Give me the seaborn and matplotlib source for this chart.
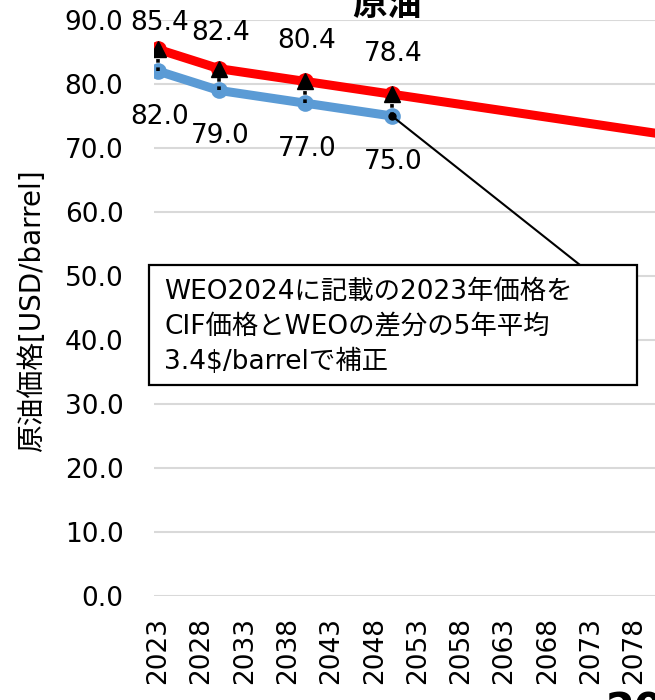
import numpy as np
import pandas as pd
import seaborn as sns
import matplotlib.pyplot as plt
from matplotlib.patches import Rectangle

# WEO2024 price (blue) and corrected price (red, continues to the right)
weo_years = [2023, 2030, 2040, 2050]
weo_price = [82.0, 79.0, 77.0, 75.0]
cif_years = [2023, 2030, 2040, 2050, 2085]
cif_price = [85.4, 82.4, 80.4, 78.4, 71.4]

tick_years = list(range(2023, 2079, 5))
y_ticks = [0, 10, 20, 30, 40, 50, 60, 70, 80, 90]
y_tick_labels = [f"{t:.1f}" for t in y_ticks]

title = "原油"
y_label = "原油価格[USD/barrel]"
note = "WEO2024に記載の2023年価格を\nCIF価格とWEOの差分の5年平均\n3.4$/barrelで補正"

RED = "#FF0000"
BLUE = "#5B9BD5"

sns.set_style("white")
plt.rcParams["font.family"] = ["DejaVu Sans", "Noto Sans CJK JP"]
plt.rcParams["text.color"] = "black"
plt.rcParams["xtick.color"] = "black"
plt.rcParams["ytick.color"] = "black"

W, H = 655, 700
fig = plt.figure(figsize=(W / 100, H / 100), dpi=100)
# plot area runs past the right edge of the picture (cropped chart)
ax = fig.add_axes([154 / W, 104 / H, 675 / W, 576 / H])

weo_df = pd.DataFrame({"year": weo_years, "price": weo_price})
cif_df = pd.DataFrame({"year": cif_years, "price": cif_price})

sns.lineplot(data=cif_df, x="year", y="price", ax=ax, color=RED, lw=6.5,
             marker="o", markersize=12, markeredgewidth=0,
             markevery=list(range(len(weo_years))), zorder=3)
sns.lineplot(data=weo_df, x="year", y="price", ax=ax, color=BLUE, lw=6.5,
             marker="o", markersize=12, markeredgewidth=0, zorder=3)

# dotted arrows from WEO value up to corrected value
top_vals = cif_price[:len(weo_years)]
ax.vlines(weo_years, weo_price, top_vals, colors="black",
          linestyles=(0, (1, 1.3)), lw=2.6, zorder=4)
ax.plot(weo_years, top_vals, "^", color="black", ms=11, zorder=5)

# data labels
red_dy = [19, 26, 29, 29]
for yr, v, dy in zip(weo_years, top_vals, red_dy):
    ax.annotate(f"{v:.1f}", xy=(yr, v), xytext=(1, dy), textcoords="offset points",
                ha="center", va="center", fontsize=19, annotation_clip=False)
for yr, v in zip(weo_years, weo_price):
    ax.annotate(f"{v:.1f}", xy=(yr, v), xytext=(1, -33), textcoords="offset points",
                ha="center", va="center", fontsize=19, annotation_clip=False)

# callout
ax.plot([weo_years[-1]], [weo_price[-1]], "o", color="black", ms=5, zorder=6)
ax.annotate("", xy=(weo_years[-1], weo_price[-1]), xytext=(580, H - 265),
            textcoords="figure pixels",
            arrowprops=dict(arrowstyle="-", color="black", lw=1.5,
                            shrinkA=0, shrinkB=0), zorder=6)
fig.add_artist(Rectangle((149 / W, 1 - 385 / H), 488 / W, 120 / H,
                         transform=fig.transFigure, facecolor="white",
                         edgecolor="black", lw=1.6, zorder=10))
fig.text(164 / W, 1 - 279 / H, note, ha="left", va="top", fontsize=19,
         linespacing=1.45, zorder=11)

ax.set_xlim(2022.5, 2100.5)
ax.set_ylim(0, 90)
ax.set_xticks(tick_years)
ax.set_xticklabels([str(t) for t in tick_years], rotation=90, fontsize=19)
ax.set_yticks(y_ticks)
ax.set_yticklabels(y_tick_labels, fontsize=19)
ax.tick_params(axis="both", length=0)
ax.tick_params(axis="x", pad=15)
ax.tick_params(axis="y", pad=22)
ax.set_xlabel("")
ax.set_ylabel("")
ax.yaxis.grid(True, color="#D9D9D9", lw=1.5)
ax.xaxis.grid(False)
ax.set_axisbelow(True)
for s in ax.spines.values():
    s.set_visible(False)

fig.text(32 / W, 1 - 311 / H, y_label, rotation=90, ha="center", va="center",
         fontsize=20)
fig.text(387 / W, 1 - 15 / H, title, ha="center", va="baseline", fontsize=25,
         fontweight="bold", family="Noto Sans CJK JP")
fig.text(606 / W, 1 - 691 / H, "20", ha="left", va="top", fontsize=30,
         fontweight="bold")

fig.savefig("out.png", dpi=100)
